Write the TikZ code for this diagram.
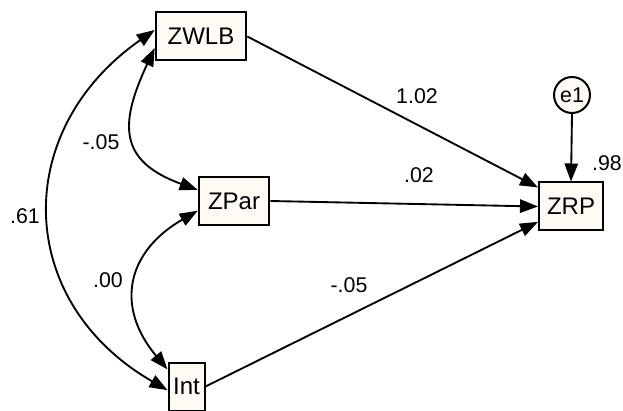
\documentclass[tikz,border=0pt]{standalone}
\usepackage{fontspec}
\setmainfont{Liberation Sans}
\usetikzlibrary{arrows.meta}
\definecolor{boxfill}{RGB}{255,251,244}
\tikzset{
  var/.style={draw,rectangle,line width=1.5pt,fill=boxfill,minimum height=36pt,inner sep=0pt,font=\fontsize{18}{20}\selectfont},
  err/.style={draw,circle,line width=1.5pt,fill=boxfill,minimum size=27pt,inner sep=0pt,font=\fontsize{16}{18}\selectfont},
  coef/.style={font=\fontsize{16}{18}\selectfont,inner sep=0pt},
  link/.style={line width=1.4pt},
  >={Triangle[length=13.5pt,width=10pt]}
}

\begin{document}
\begin{tikzpicture}[x=0.75pt,y=0.75pt]
\useasboundingbox (0,0) rectangle (623,410);
%observed variables
\node [var,minimum width=68pt] (zwlb) at(201,373.5){ZWLB};
\node [var,minimum width=53pt] (zpar) at(234,209){ZPar};
\node [var,minimum width=27pt] (int) at(186.5,23.5){Int};
\node [var,minimum width=48pt] (zrp) at(571,203.5){ZRP};
\node [err] (e1) at(572,315){e1};

%regression paths
\draw[link,->](zwlb.east) -- (zrp.150);
\draw[link,->](zpar.east) -- (zrp.west);
\draw[link,->](int.east) -- (zrp.205);
\draw[link,->](e1.south) -- (zrp.north);

%covariances
\draw[link,<->](zwlb.172) to[out=215,in=150,looseness=1.25] (int.191);
\draw[link,<->](zwlb.194) to[out=245,in=160,looseness=1.45] (zpar.163);
\draw[link,<->](zpar.195) to[out=210,in=130,looseness=1.3] (int.138);

%estimates
\node [coef] (c1) at(417,314){1.02};
\node [coef] (c2) at(419,235){.02};
\node [coef] (c3) at(349,125){-.05};
\node [coef] (c4) at(101,268){-.05};
\node [coef] (c5) at(25,194){.61};
\node [coef] (c6) at(108,130){.00};
\node [coef] (c7) at(607,247){.98};
\end{tikzpicture}
\end{document}
